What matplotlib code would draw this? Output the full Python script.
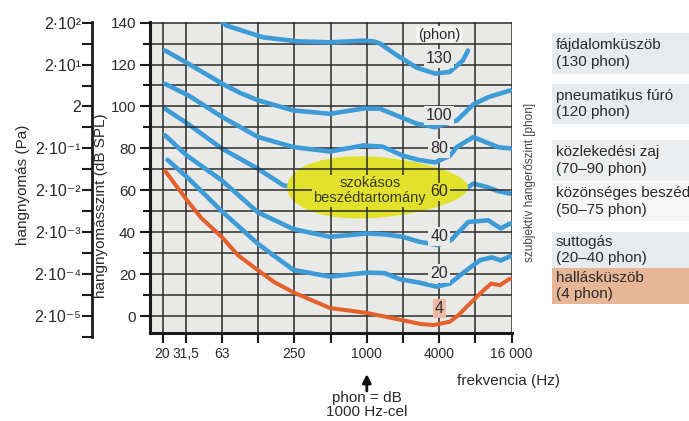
import numpy as np
import matplotlib
matplotlib.use('Agg')
import matplotlib.pyplot as plt
from matplotlib.ticker import FixedLocator, FixedFormatter, NullFormatter, MultipleLocator
from matplotlib.patches import Rectangle

# equal-loudness contours (Hz, dB SPL)
f130 = [52, 68, 137, 261, 494, 930, 1150, 1290, 1770, 2600, 3700, 4900, 6300, 6940]
db130 = [144.5, 138.6, 133, 131.1, 130.6, 131.4, 131, 130, 124.5, 118.5, 115.7, 116.5, 122, 126.7]

f100 = [21, 33, 63, 88, 125, 245, 494, 935, 1290, 1770, 2600, 3700, 5600, 7700, 10300, 15500]
db100 = [126.7, 120.3, 110.8, 106.5, 102.9, 98.1, 96.5, 99, 98.9, 95.7, 91.8, 90.1, 93.3, 101, 104.5, 107.6]

f80 = [21, 33, 63, 125, 245, 494, 935, 1360, 2000, 2700, 3700, 4900, 5600, 7700, 10200, 12500, 15500]
db80 = [110.8, 105.2, 94.9, 85.4, 80.6, 78.5, 81.4, 80.8, 76.5, 74.5, 73.3, 76.5, 80.6, 85.4, 82.5, 80.5, 80.0]

f60 = [21, 32, 62, 124, 202, 300, 500, 1000, 2000, 3700, 5000, 6350, 7700, 9900, 12500, 15500]
db60 = [98.9, 92, 80, 70.3, 62.4, 60.5, 59.5, 60.5, 58, 54.5, 57, 60, 63.2, 61.6, 59.5, 58.4]

f40 = [21, 32, 62, 124, 245, 494, 1000, 1400, 2000, 2700, 3900, 5000, 7000, 10200, 13000, 15500]
db40 = [86.2, 76.5, 64.8, 49.5, 41.5, 37.8, 39.4, 39, 37.8, 35.5, 33.8, 36.2, 44.9, 45.7, 41.8, 44.1]

f20 = [22, 32, 62, 124, 245, 494, 1000, 1400, 1900, 2700, 3800, 4900, 6770, 8780, 11000, 13000, 15500]
db20 = [74.5, 66.3, 50.1, 34.5, 22, 18.8, 20.7, 20.5, 17.5, 16, 14, 15.5, 21.9, 26.7, 28, 26.5, 28.5]

f4 = [21, 32, 42, 62, 85, 124, 172, 245, 494, 1000, 1900, 2800, 3600, 4900, 5800, 6770, 8780, 10800, 12800, 15500]
db4 = [69.3, 55.2, 46.8, 37.8, 29, 21.9, 16, 11.3, 3.8, 1.5, -1.8, -3.8, -4.3, -2.7, 0.5, 4.4, 10.8, 15.5, 14.7, 17.8]

blue_curves = [(f130, db130), (f100, db100), (f80, db80), (f40, db40), (f20, db20)]

# labels on the 4000 Hz line
phon_labels = ['(phon)', '130', '100', '80', '60', '40', '20', '4']
phon_label_db = [134.3, 122.7, 95.7, 80, 59.2, 38.1, 20.3, 3.7]

xtick_pos = [20, 31.5, 63, 250, 1000, 4000, 16000]
xtick_lab = ['20', '31,5', '63', '250', '1000', '4000', '16 000']
xtick_minor = [125, 500, 2000, 8000]

pa_ticks = [2e-5, 2e-4, 2e-3, 2e-2, 2e-1, 2, 2e1, 2e2]
pa_labels = ['2·10⁻⁵', '2·10⁻⁴', '2·10⁻³', '2·10⁻²', '2·10⁻¹', '2', '2·10¹', '2·10²']

examples = [('fájdalomküszöb', '(130 phon)'),
            ('pneumatikus fúró', '(120 phon)'),
            ('közlekedési zaj', '(70–90 phon)'),
            ('közönséges beszéd', '(50–75 phon)'),
            ('suttogás', '(20–40 phon)'),
            ('hallásküszöb', '(4 phon)')]

# speech area (centre Hz, centre dB)
speech_f, speech_db = 1230, 61.4

BLUE = '#3d9bd7'
ORANGE = '#e4612b'
YELLOW = '#e2e22c'
BG = '#e9e9e7'
TXT = '#2a2a2a'

W, H = 689, 421
def fx(px): return px / W
def fy(py): return 1 - py / H

plt.rcParams['font.family'] = ['Liberation Sans', 'DejaVu Sans']
fig = plt.figure(figsize=(6.89, 4.21), dpi=100)
ax = fig.add_axes([fx(150), fy(333), (512 - 150) / W, (333 - 22) / H])
ax.set_xscale('log')
ax.set_xlim(15.74, 16120)
ax.set_ylim(-8.1, 140.3)
ax.set_facecolor(BG)
ax.set_axisbelow('line')

# speech ellipse
t = np.linspace(0, 2 * np.pi, 200)
ex = speech_f * 2 ** (2.5 * np.cos(t))
ey = speech_db + 14.5 * np.sin(t) * (1 - 0.22 * np.cos(t))
ax.fill(ex, ey, color=YELLOW, lw=0, zorder=1)

ax.plot(f60, db60, color=BLUE, lw=3.3, solid_capstyle='round', solid_joinstyle='round', zorder=0.9)
for f, d in blue_curves:
    ax.plot(f, d, color=BLUE, lw=3.3, solid_capstyle='round', solid_joinstyle='round', zorder=2)
ax.plot(f4, db4, color=ORANGE, lw=2.9, solid_capstyle='round', solid_joinstyle='round', zorder=2.1)

ax.xaxis.set_major_locator(FixedLocator(xtick_pos))
ax.xaxis.set_major_formatter(FixedFormatter(xtick_lab))
ax.xaxis.set_minor_locator(FixedLocator(xtick_minor))
ax.xaxis.set_minor_formatter(NullFormatter())
ax.yaxis.set_major_locator(MultipleLocator(20))
ax.yaxis.set_minor_locator(MultipleLocator(10))
ax.grid(which='both', color='#2b2b2b', lw=1.1)
ax.tick_params(which='both', direction='out', width=1.5, color='#1a1a1a', labelsize=11, labelcolor=TXT)
ax.tick_params(axis='x', which='both', length=7, pad=3, labelsize=10)
ax.tick_params(axis='y', which='major', length=7, pad=3)
ax.tick_params(axis='y', which='minor', length=5)
for s in ['top', 'right']:
    ax.spines[s].set_visible(False)
for s in ['left', 'bottom']:
    ax.spines[s].set_linewidth(2.2)
    ax.spines[s].set_color('#1a1a1a')

for lab, d in zip(phon_labels, phon_label_db):
    fc = BG
    if lab == '60':
        fc = YELLOW
    elif lab == '4':
        fc = '#efb9a3'
    elif lab == '(phon)':
        fc = '#f3f3f1'
    ax.text(4000, d, lab, ha='center', va='center', fontsize=11.5 if lab != '(phon)' else 10.5,
            color=TXT, zorder=5,
            bbox=dict(boxstyle='square,pad=0.12', fc=fc, ec='none'))

ax.text(1060, 59.8, 'szokásos\nbeszédtartomány', ha='center', va='center', fontsize=10.5,
        color='#3a3a22', zorder=5, linespacing=1.1,
        bbox=dict(boxstyle='square,pad=0.1', fc=YELLOW, ec='none'))

# pressure axis (Pa)
ax_pa = fig.add_axes([fx(92), fy(337), 0.0001, (337 - 22) / H])
ax_pa.set_yscale('log')
ax_pa.set_ylim(2e-5 * 10 ** (-0.5), 200 * 10 ** (0.3 / 20))
ax_pa.set_facecolor('none')
for s in ['top', 'right', 'bottom']:
    ax_pa.spines[s].set_visible(False)
ax_pa.spines['left'].set_linewidth(2.0)
ax_pa.spines['left'].set_color('#1a1a1a')
ax_pa.set_xticks([])
ax_pa.yaxis.set_major_locator(FixedLocator(pa_ticks))
ax_pa.yaxis.set_major_formatter(FixedFormatter(pa_labels))
ax_pa.yaxis.set_minor_locator(FixedLocator([p * 10 ** -0.5 for p in pa_ticks]))
ax_pa.yaxis.set_minor_formatter(NullFormatter())
ax_pa.tick_params(which='both', direction='out', length=7, width=1.5, color='#1a1a1a',
                  labelsize=11.5, labelcolor=TXT, pad=1)

fig.text(fx(101), fy(206), 'hangnyomásszint (dB SPL)', rotation=90, ha='center', va='center',
         fontsize=11, color=TXT)
fig.text(fx(23), fy(185), 'hangnyomás (Pa)', rotation=90, ha='center', va='center',
         fontsize=11, color=TXT)
fig.text(fx(530), fy(182), 'szubjektív hangerőszint [phon]', rotation=90, ha='center', va='center',
         fontsize=8.5, color='#444444')
fig.text(fx(457), fy(381), 'frekvencia (Hz)', ha='left', va='center', fontsize=11, color=TXT)

ax.annotate('', xy=(1000, fy(374)), xycoords=('data', 'figure fraction'),
            xytext=(1000, fy(391)), textcoords=('data', 'figure fraction'),
            arrowprops=dict(arrowstyle='-|>,head_length=0.5,head_width=0.25', color='#111111',
                            lw=2.0, shrinkA=0, shrinkB=0),
            annotation_clip=False)
ax.annotate('phon = dB\n1000 Hz-cel', xy=(1000, fy(405)), xycoords=('data', 'figure fraction'),
            ha='center', va='center', fontsize=11, color=TXT, linespacing=1.0,
            annotation_clip=False)

# example boxes on the right
box_rows = [(33, 74), (84, 124), (140, 181), (182, 221), (232, 268), (268, 304)]
box_cols = ['#e7ebee', '#e7ebee', '#eceeef', '#f6f6f6', '#e7ebee', '#e6b696']
for (a, b), (l1, l2), c in zip(box_rows, examples, box_cols):
    fig.patches.append(Rectangle((fx(552), fy(b)), 1 - fx(552), (b - a) / H,
                                 transform=fig.transFigure, fc=c, ec='none', zorder=0))
    fig.text(fx(556), fy((a + b) / 2), l1 + '\n' + l2, ha='left', va='center',
             fontsize=11, color=TXT)

fig.savefig('out.png', dpi=100)
